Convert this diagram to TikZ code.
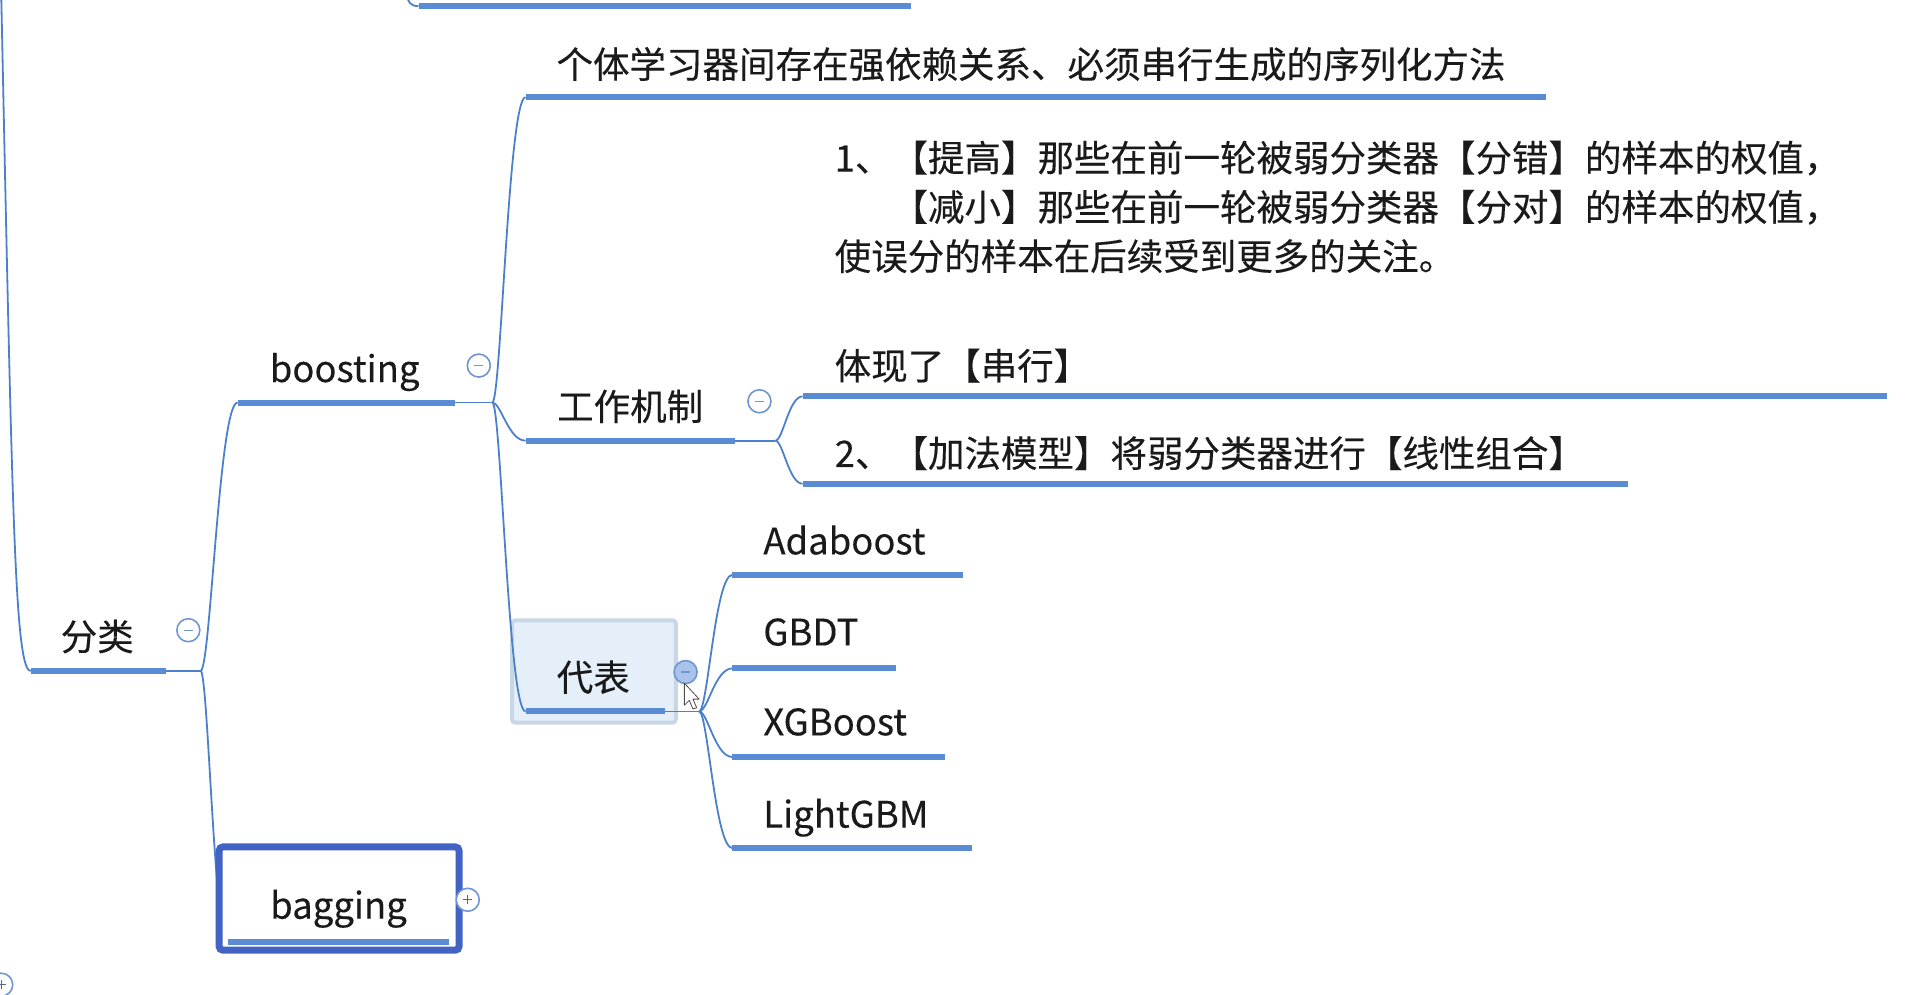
\documentclass[tikz,border=0pt]{standalone}
\usepackage{fontspec}
\setmainfont{Noto Sans CJK SC}[FakeBold=0.25]
\usetikzlibrary{calc}
\definecolor{ulc}{HTML}{5A8CD5}
\definecolor{cnc}{HTML}{4D80CC}
\definecolor{btnc}{HTML}{6F95D2}
\definecolor{txtc}{HTML}{1A1A1A}
\definecolor{bagc}{HTML}{4262C4}
\definecolor{selfill}{HTML}{E4EFF9}
\definecolor{seldraw}{HTML}{C9D6E6}
\definecolor{hovfill}{HTML}{A9C3EA}
\begin{document}
\begin{tikzpicture}[x=1.2309pt,y=-1.2309pt,
  uline/.style={line width=6pt, draw=ulc},
  conn/.style={line width=1.8pt, draw=cnc},
  lbl/.style={font=\fontsize{36.5}{49}\selectfont, inner sep=0pt, text=txtc, text height=30pt, text depth=2pt},
  btnbase/.style={circle, draw=btnc, line width=1.6pt, fill=white, minimum size=23pt, inner sep=0pt},
  btn/.style={btnbase,
    path picture={\draw[btnc,line width=1.4pt] ([xshift=-4.5pt]path picture bounding box.center) -- ([xshift=4.5pt]path picture bounding box.center);}},
  btnplus/.style={btnbase,
    path picture={\draw[btnc!70!black,line width=1.4pt] ([xshift=-4.5pt]path picture bounding box.center) -- ([xshift=4.5pt]path picture bounding box.center)
      ([yshift=-4.5pt]path picture bounding box.center) -- ([yshift=4.5pt]path picture bounding box.center);}},
]
\useasboundingbox (0,0) rectangle (1568,808);

% ---------- coordinates ----------
\coordinate (topS) at (331,-4);
\coordinate (topL) at (340,5);   \coordinate (topR) at (740,5);
\coordinate (rootS) at (1,-4);
\coordinate (flL) at (25,545);   \coordinate (flR) at (135,545);  \coordinate (flJ) at (163,545);
\coordinate (boL) at (193,327);  \coordinate (boR) at (370,327);  \coordinate (boJ) at (400,327);
\coordinate (baL) at (185,765);  \coordinate (baR) at (365,765);
\coordinate (gtL) at (427,79);   \coordinate (gtR) at (1256,79);
\coordinate (mcL) at (427,358);  \coordinate (mcR) at (597,358);  \coordinate (mcJ) at (630,358);
\coordinate (dbL) at (427,578);  \coordinate (dbR) at (540,578);  \coordinate (dbJ) at (568,578);
\coordinate (m1L) at (652,322);  \coordinate (m1R) at (1533,322);
\coordinate (m2L) at (652,393);  \coordinate (m2R) at (1323,393);
\coordinate (adL) at (595,467);  \coordinate (adR) at (782,467);
\coordinate (gbL) at (595,543);  \coordinate (gbR) at (728,543);
\coordinate (xgL) at (595,615);  \coordinate (xgR) at (768,615);
\coordinate (lgL) at (595,689);  \coordinate (lgR) at (790,689);

% ---------- highlight box for 代表 ----------
\draw[fill=selfill, draw=seldraw, line width=4pt, rounded corners=3pt] (416,504) rectangle (549,587);

% ---------- connectors ----------
\draw[conn] (topS) .. controls (331,2) and (334,5) .. (topL);
\draw[conn] (rootS) .. controls (10,420) and (12,545) .. (flL);
\draw[conn] (flR) -- (flJ);
\draw[conn] (flJ) .. controls +(8,0) and +(-15,0) .. (boL);
\draw[conn] (flJ) .. controls +(6,0) and +(-11,0) .. (baL);
\draw[conn] (boR) -- (boJ);
\draw[conn] (boJ) .. controls +(7,0) and +(-14,0) .. (gtL);
\draw[conn] (boJ) .. controls +(7,0) and +(-14,0) .. (mcL);
\draw[conn] (boJ) .. controls +(7,0) and +(-14,0) .. (dbL);
\draw[conn] (mcR) -- (mcJ);
\draw[conn] (mcJ) .. controls +(6,0) and +(-11,0) .. (m1L);
\draw[conn] (mcJ) .. controls +(6,0) and +(-11,0) .. (m2L);
\draw[conn] (dbR) -- (dbJ);
\draw[conn] (dbJ) .. controls +(7,0) and +(-14,0) .. (adL);
\draw[conn] (dbJ) .. controls +(7,0) and +(-14,0) .. (gbL);
\draw[conn] (dbJ) .. controls +(7,0) and +(-14,0) .. (xgL);
\draw[conn] (dbJ) .. controls +(7,0) and +(-14,0) .. (lgL);

% ---------- bagging box ----------
\draw[fill=white, draw=bagc, line width=7pt, rounded corners=4pt] (178,688) rectangle (373,772);

% ---------- underlines ----------
\draw[uline] (topL) -- (topR);
\draw[uline] (flL) -- (flR);
\draw[uline] (boL) -- (boR);
\draw[uline] (baL) -- (baR);
\draw[uline] (gtL) -- (gtR);
\draw[uline] (mcL) -- (mcR);
\draw[uline] (dbL) -- (dbR);
\draw[uline] (m1L) -- (m1R);
\draw[uline] (m2L) -- (m2R);
\draw[uline] (adL) -- (adR);
\draw[uline] (gbL) -- (gbR);
\draw[uline] (xgL) -- (xgR);
\draw[uline] (lgL) -- (lgR);

% ---------- texts ----------
\node[lbl] (fenlei) at (79,517) {分类};
\node[lbl] (boosting) at (280,299) {boosting};
\node[lbl] (bagging) at (275,735) {bagging};
\node[lbl, anchor=west] (geti) at (452,52) {个体学习器间存在强依赖关系、必须串行生成的序列化方法};
\node[lbl] (jizhi) at (512,330) {工作机制};
\node[lbl] (daibiao) at (482,550) {代表};
\node[lbl, anchor=west] (mechA) at (678,128) {1、【提高】那些在前一轮被弱分类器【分错】的样本的权值，};
\node[lbl, anchor=west] (mechB) at (678,168) {\phantom{1、}【减小】那些在前一轮被弱分类器【分对】的样本的权值，};
\node[lbl, anchor=west] (mechC) at (678,208) {使误分的样本在后续受到更多的关注。};
\node[lbl, anchor=west] (mechD) at (678,297) {体现了【串行】};
\node[lbl, anchor=west] (mech2) at (678,368) {2、【加法模型】将弱分类器进行【线性组合】};
\node[lbl, anchor=west] (ada) at (620,439) {Adaboost};
\node[lbl, anchor=west] (gbdt) at (620,513) {GBDT};
\node[lbl, anchor=west] (xgb) at (620,586) {XGBoost};
\node[lbl, anchor=west] (lgbm) at (620,661) {LightGBM};

% ---------- collapse buttons ----------
\node[btn] (b1) at (153,512) {};
\node[btn] (b2) at (389,297) {};
\node[btn] (b3) at (617,326) {};
\node[btn, fill=hovfill] (b4) at (557,546) {};
\node[btnplus] (b5) at (380,731) {};
\node[btnplus] (b6) at (1,800) {};

% ---------- mouse cursor ----------
\draw[fill=white, draw=black!70, line width=0.8pt, line join=round]
  (556,555) -- (556,573) -- (560,569) -- (563,576) -- (566,575) -- (563,568) -- (568,568) -- cycle;
\end{tikzpicture}
\end{document}
